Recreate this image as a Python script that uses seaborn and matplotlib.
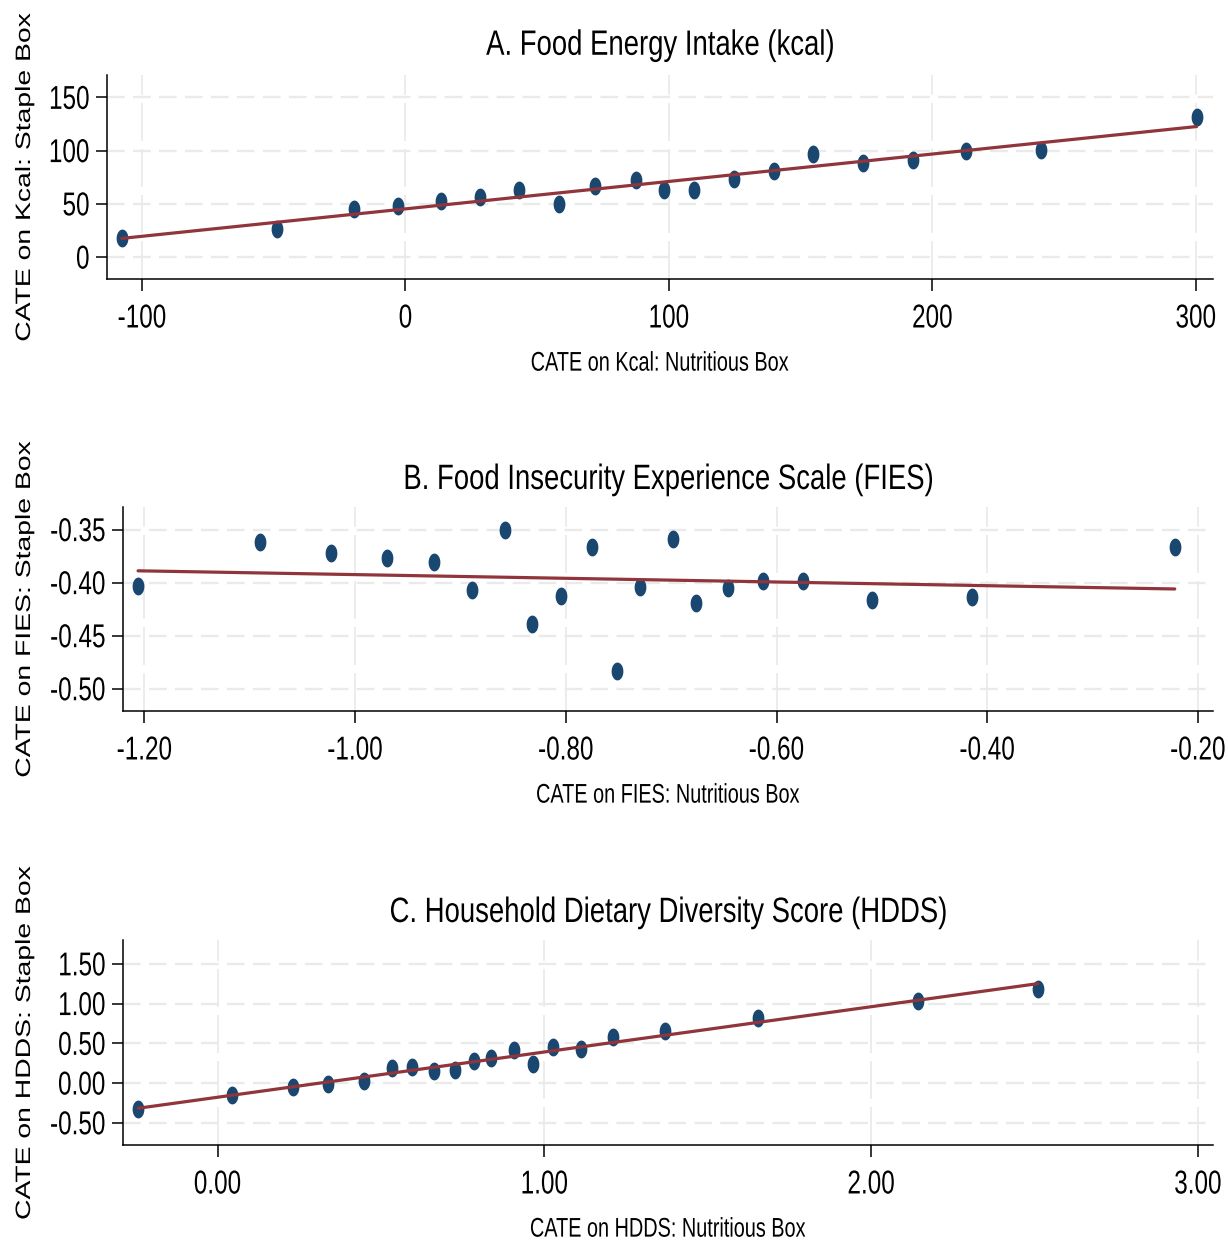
import matplotlib
matplotlib.use("Agg")
import matplotlib.pyplot as plt
import seaborn as sns
import numpy as np
import pandas as pd
from matplotlib.path import Path
from matplotlib.ticker import FormatStrFormatter
from matplotlib.patheffects import AbstractPathEffect
from matplotlib.transforms import Affine2D

# ---------------- data ----------------
kcal_nutritious = [-107.7, -48.8, -19.4, -2.9, 13.6, 28.4, 43.1, 58.3, 71.8, 87.4,
                   98.3, 109.5, 124.8, 139.7, 154.6, 173.7, 192.5, 212.9, 241.3, 300.3]
kcal_staple = [17.9, 26.3, 45.1, 47.6, 52.9, 56.7, 63.3, 49.8, 67.0, 72.3,
               62.9, 62.9, 73.3, 80.8, 97.2, 88.1, 91.2, 99.7, 100.9, 131.4]

fies_nutritious = [-1.206, -1.090, -1.023, -0.970, -0.925, -0.889, -0.858, -0.832, -0.805, -0.775,
                   -0.751, -0.730, -0.698, -0.676, -0.646, -0.613, -0.575, -0.509, -0.414, -0.222]
fies_staple = [-0.403, -0.362, -0.372, -0.377, -0.381, -0.407, -0.350, -0.439, -0.413, -0.366,
               -0.483, -0.404, -0.359, -0.419, -0.405, -0.398, -0.398, -0.416, -0.414, -0.366]

hdds_nutritious = [-0.243, 0.044, 0.230, 0.339, 0.447, 0.533, 0.595, 0.662, 0.725, 0.784,
                   0.837, 0.907, 0.965, 1.027, 1.113, 1.210, 1.368, 1.654, 2.143, 2.510]
hdds_staple = [-0.326, -0.146, -0.054, -0.013, 0.029, 0.184, 0.196, 0.155, 0.167, 0.271,
               0.313, 0.413, 0.238, 0.455, 0.426, 0.585, 0.656, 0.823, 1.031, 1.186]

titles = ["A. Food Energy Intake (kcal)",
          "B. Food Insecurity Experience Scale (FIES)",
          "C. Household Dietary Diversity Score (HDDS)"]
xlabels = ["CATE on Kcal: Nutritious Box",
           "CATE on FIES: Nutritious Box",
           "CATE on HDDS: Nutritious Box"]
ylabels = ["CATE on Kcal: Staple Box",
           "CATE on FIES: Staple Box",
           "CATE on HDDS: Staple Box"]
xticks = [[-100, 0, 100, 200, 300],
          [-1.20, -1.00, -0.80, -0.60, -0.40, -0.20],
          [0.0, 1.0, 2.0, 3.0]]
yticks = [[0, 50, 100, 150],
          [-0.50, -0.45, -0.40, -0.35],
          [-0.50, 0.0, 0.50, 1.00, 1.50]]
xlims = [(-113.3, 306.5), (-1.2203, -0.1857), (-0.2896, 3.046)]
ylims = [(-20.6, 171.0), (-0.521, -0.3287), (-0.78, 1.80)]
fmts = ["%d", "%.2f", "%.2f"]


# ---------------- helpers ----------------
class Stretch(AbstractPathEffect):
    """Stretch a text glyph path about its own ink centre (text-local axes)."""

    def __init__(self, sx=1.0, sy=1.0):
        super().__init__()
        self.sx, self.sy = sx, sy

    def draw_path(self, renderer, gc, tpath, affine, rgbFace=None):
        ext = tpath.get_extents()
        cx, cy = (ext.x0 + ext.x1) / 2, (ext.y0 + ext.y1) / 2
        pre = Affine2D().translate(-cx, -cy).scale(self.sx, self.sy).translate(cx, cy)
        renderer.draw_path(gc, tpath, pre + affine, rgbFace)


# ---------------- style ----------------
sns.set_theme(style="white")
FONT = ["Liberation Sans", "DejaVu Sans"]
plt.rcParams["font.family"] = FONT
plt.rcParams["axes.unicode_minus"] = False
plt.rcParams["text.color"] = "black"
plt.rcParams["xtick.color"] = "black"
plt.rcParams["ytick.color"] = "black"
plt.rcParams["axes.labelcolor"] = "black"

NAVY = "#1a476f"
MAROON = "#90353b"
GRID = "#eaeaea"
K = 1.36  # vertical stretch of the original rendering

W, H = 1228, 1242
fig = plt.figure(figsize=(W / 100, H / 100), dpi=100)

# axes boxes in pixels: left, right, top, bottom
boxes = [(107, 1213, 75, 279), (123, 1213, 507, 711), (123, 1213, 940, 1145)]
title_pads = [16, 14.4, 14.4]

theta = np.linspace(0, 2 * np.pi, 60)
ellipse = Path(np.column_stack([0.66 * np.cos(theta), np.sin(theta)]), closed=True)

datasets = [(kcal_nutritious, kcal_staple), (fies_nutritious, fies_staple),
            (hdds_nutritious, hdds_staple)]

for i, (xs, ys) in enumerate(datasets):
    l, r, t, b = boxes[i]
    ax = fig.add_axes([l / W, 1 - b / H, (r - l) / W, (b - t) / H])
    df = pd.DataFrame({"x": xs, "y": ys})
    sns.regplot(data=df, x="x", y="y", ax=ax, ci=None, marker=ellipse,
                scatter_kws=dict(s=165, color=NAVY, alpha=1, linewidths=0, zorder=3),
                line_kws=dict(color=MAROON, lw=2.3, zorder=4))
    ax.set_xlim(*xlims[i])
    ax.set_ylim(*ylims[i])
    ax.set_xticks(xticks[i])
    ax.set_yticks(yticks[i])
    ax.xaxis.set_major_formatter(FormatStrFormatter(fmts[i]))
    ax.yaxis.set_major_formatter(FormatStrFormatter(fmts[i]))
    ax.set_axisbelow(True)
    ax.yaxis.grid(True, color=GRID, lw=1.7, linestyle=(0, (7.5, 3.5)))
    ax.xaxis.grid(True, color=GRID, lw=1.3, linestyle=(0, (21, 4.5)))
    for s in ["top", "right"]:
        ax.spines[s].set_visible(False)
    for s in ["left", "bottom"]:
        ax.spines[s].set_color("black")
        ax.spines[s].set_linewidth(1.1)
    ax.tick_params(axis="x", direction="out", length=8.5, width=1.1, color="black",
                   labelsize=17.5, pad=12, bottom=True)
    ax.tick_params(axis="y", direction="out", length=8, width=1.1, color="black",
                   labelsize=17.5, pad=4.5, left=True)
    ttl = ax.set_title(titles[i], fontsize=19.8, pad=title_pads[i], color="black")
    ttl.set_path_effects([Stretch(1.0, 1.28)])
    xl = ax.set_xlabel(xlabels[i], fontsize=14.3, labelpad=17, color="black")
    xl.set_path_effects([Stretch(1.0, K)])
    yl = ax.set_ylabel(ylabels[i], fontsize=15, color="black")
    yl.set_path_effects([Stretch(K, 1.0)])
    ax.yaxis.set_label_coords((34 - l) / (r - l), 0.5)
    for lab in ax.get_xticklabels() + ax.get_yticklabels():
        lab.set_path_effects([Stretch(1.0, K)])

fig.savefig("out.png", dpi=100)
